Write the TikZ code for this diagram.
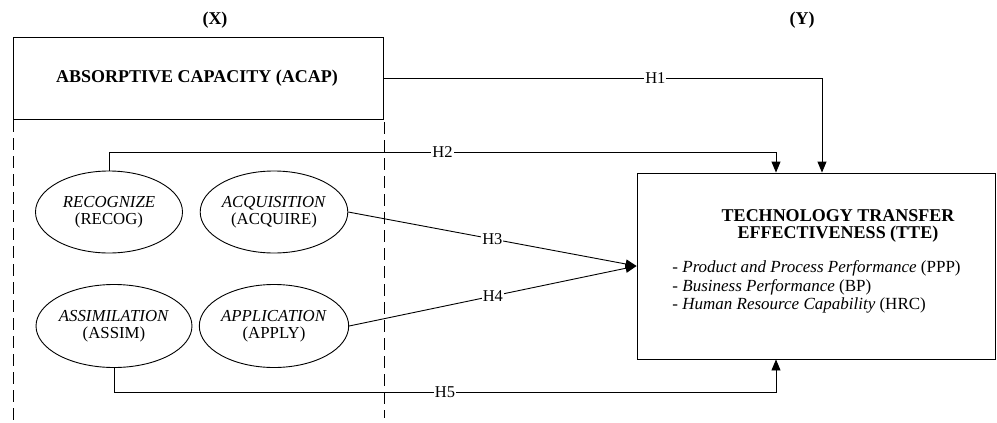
\documentclass[tikz,border=0pt]{standalone}
\usepackage{fontspec}
\setmainfont{Liberation Serif}
\usetikzlibrary{arrows.meta,shapes.geometric}
\begin{document}
\begin{tikzpicture}[x=1pt,y=-1pt,
  line width=0.9pt,
  bigtxt/.style={font=\fontsize{18pt}{17pt}\selectfont\bfseries},
  construct/.style={draw,rectangle,inner sep=0pt},
  dim/.style={draw,ellipse,minimum width=147pt,minimum height=82pt,inner sep=0pt,
    align=center,font=\fontsize{16.8pt}{17pt}\selectfont},
  hyp/.style={fill=white,inner sep=1pt,font=\fontsize{16.5pt}{16pt}\selectfont},
  link/.style={-{Triangle[length=11pt,width=9pt]}},
  boundary/.style={dash pattern=on 12pt off 6pt,line width=0.8pt}]
\useasboundingbox (0,0) rectangle (997,423);

% column headings
\node[bigtxt] (xhead) at (215,20) {(X)};
\node[bigtxt] (yhead) at (802,20) {(Y)};

% absorptive capacity block and its dashed boundary
\node[construct,minimum width=370pt,minimum height=82pt] (acap) at (198,78) {};
\node[bigtxt] (acaptxt) at (197,78) {ABSORPTIVE CAPACITY (ACAP)};
\coordinate (bl1) at (13,120);
\coordinate (bl2) at (13,423);
\coordinate (br1) at (384,122);
\coordinate (br2) at (384,418);
\draw[boundary] (bl1) -- (bl2);
\draw[boundary] (br1) -- (br2);

% four dimensions
\node[dim] (recog) at (109,212) {\textit{RECOGNIZE}\\(RECOG)};
\node[dim] (acq) at (274,212) {\textit{ACQUISITION}\\(ACQUIRE)};
\node[dim,minimum height=83pt] (assim) at (114,326) {\textit{ASSIMILATION}\\(ASSIM)};
\node[dim,minimum height=83pt] (apply) at (274,326) {\textit{APPLICATION}\\(APPLY)};

% technology transfer effectiveness block
\node[construct,minimum width=358pt,minimum height=186pt] (tte) at (816,266) {};
\node[bigtxt,align=center] (ttetitle) at (838,226)
  {TECHNOLOGY TRANSFER\\EFFECTIVENESS (TTE)};
\node[anchor=west,align=left,inner sep=0pt,
  font=\fontsize{17pt}{18.5pt}\selectfont] (tteitems) at (672,287)
  {- \textit{Product and Process Performance} (PPP)\\
   - \textit{Business Performance} (BP)\\
   - \textit{Human Resource Capability} (HRC)};

% hypotheses
\coordinate (h1c) at (822,78);
\draw[link] (acap.east) -- node[hyp,pos=0.62]{H1} (h1c) -- (h1c |- tte.north);

\coordinate (h2a) at (109,152);
\coordinate (h2b) at (776,152);
\draw[link] (recog.north) -- (h2a) -- node[hyp,pos=0.5]{H2} (h2b) -- (h2b |- tte.north);

\draw[link] (acq.east) -- node[hyp,pos=0.5]{H3} (tte.west);
\draw[link] (apply.east) -- node[hyp,pos=0.5]{H4} (tte.west);

\coordinate (h5a) at (114,392);
\coordinate (h5b) at (776,392);
\draw[link] (assim.south) -- (h5a) -- node[hyp,pos=0.5]{H5} (h5b) -- (h5b |- tte.south);
\end{tikzpicture}
\end{document}
